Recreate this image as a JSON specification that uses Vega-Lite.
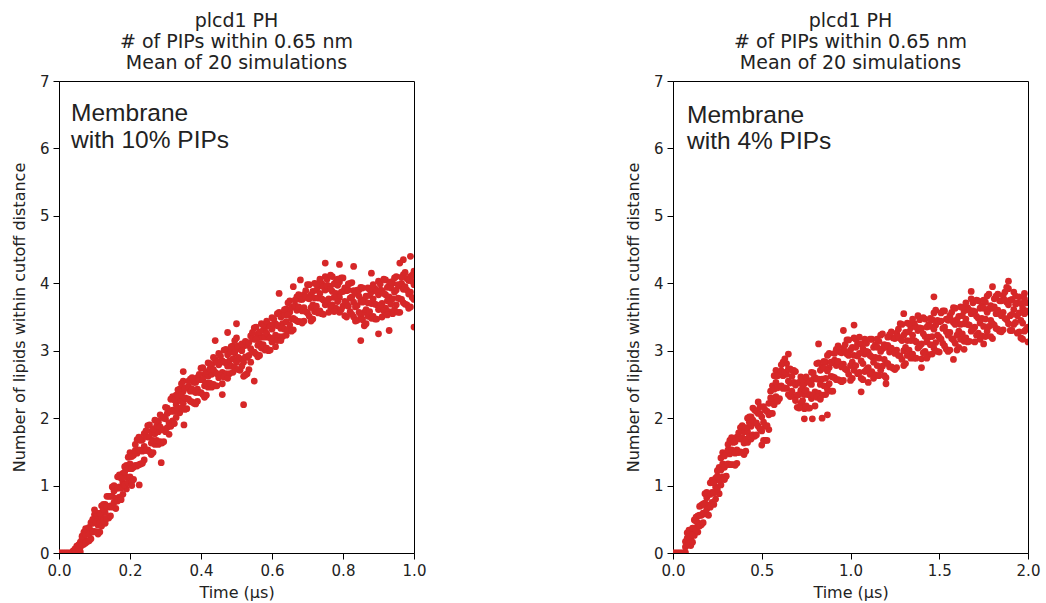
{
"$schema": "https://vega.github.io/schema/vega-lite/v6.json",
"padding": {"left": 10, "top": 11, "right": 5, "bottom": 2},
"datasets": {
"a": [
{"t":0,"n":0},{"t":0.005,"n":0},{"t":0.01,"n":0},{"t":0.015,"n":0},{"t":0.02,"n":0},{"t":0.025,"n":0},{"t":0.03,"n":0},{"t":0.035,"n":0},
{"t":0.04,"n":0},{"t":0.04,"n":0.02},{"t":0.04,"n":0.03},
{"t":0.05,"n":0.03},{"t":0.05,"n":0.07},{"t":0.05,"n":0.10},
{"t":0.06,"n":0.02},{"t":0.06,"n":0.09},{"t":0.06,"n":0.16},
{"t":0.07,"n":0.13},{"t":0.07,"n":0.21},{"t":0.07,"n":0.31},
{"t":0.08,"n":0.17},{"t":0.08,"n":0.28},{"t":0.08,"n":0.36},
{"t":0.09,"n":0.21},{"t":0.09,"n":0.33},{"t":0.09,"n":0.45},
{"t":0.10,"n":0.32},{"t":0.10,"n":0.45},{"t":0.10,"n":0.57},
{"t":0.11,"n":0.28},{"t":0.11,"n":0.41},{"t":0.11,"n":0.53},
{"t":0.12,"n":0.40},{"t":0.12,"n":0.54},{"t":0.12,"n":0.70},
{"t":0.13,"n":0.44},{"t":0.13,"n":0.60},{"t":0.13,"n":0.72},
{"t":0.14,"n":0.52},{"t":0.14,"n":0.68},{"t":0.14,"n":0.84},
{"t":0.15,"n":0.68},{"t":0.15,"n":0.84},{"t":0.15,"n":0.98},
{"t":0.16,"n":0.66},{"t":0.16,"n":0.81},{"t":0.16,"n":0.97},
{"t":0.17,"n":0.83},{"t":0.17,"n":0.98},{"t":0.17,"n":1.16},
{"t":0.18,"n":0.87},{"t":0.18,"n":1.05},{"t":0.18,"n":1.18},
{"t":0.19,"n":0.95},{"t":0.19,"n":1.13},{"t":0.19,"n":1.30},
{"t":0.20,"n":1.13},{"t":0.20,"n":1.32},{"t":0.20,"n":1.49},
{"t":0.21,"n":1.09},{"t":0.21,"n":1.27},{"t":0.21,"n":1.45},
{"t":0.22,"n":1.29},{"t":0.22,"n":1.48},{"t":0.22,"n":1.68},
{"t":0.23,"n":1.32},{"t":0.23,"n":1.52},{"t":0.23,"n":1.67},
{"t":0.24,"n":1.38},{"t":0.24,"n":1.58},{"t":0.24,"n":1.77},
{"t":0.25,"n":1.53},{"t":0.25,"n":1.72},{"t":0.25,"n":1.89},
{"t":0.26,"n":1.46},{"t":0.26,"n":1.63},{"t":0.26,"n":1.80},
{"t":0.27,"n":1.61},{"t":0.27,"n":1.77},{"t":0.27,"n":1.97},
{"t":0.28,"n":1.61},{"t":0.28,"n":1.80},{"t":0.28,"n":1.94},
{"t":0.29,"n":1.63},{"t":0.29,"n":1.83},{"t":0.29,"n":2.02},
{"t":0.30,"n":1.80},{"t":0.30,"n":1.99},{"t":0.30,"n":2.16},
{"t":0.31,"n":1.76},{"t":0.31,"n":1.93},{"t":0.31,"n":2.10},
{"t":0.32,"n":1.96},{"t":0.32,"n":2.12},{"t":0.32,"n":2.32},
{"t":0.33,"n":2.01},{"t":0.33,"n":2.20},{"t":0.33,"n":2.34},
{"t":0.34,"n":2.08},{"t":0.34,"n":2.26},{"t":0.34,"n":2.43},
{"t":0.35,"n":2.22},{"t":0.35,"n":2.40},{"t":0.35,"n":2.55},
{"t":0.36,"n":2.14},{"t":0.36,"n":2.29},{"t":0.36,"n":2.45},
{"t":0.37,"n":2.25},{"t":0.37,"n":2.40},{"t":0.37,"n":2.58},
{"t":0.38,"n":2.22},{"t":0.38,"n":2.40},{"t":0.38,"n":2.53},
{"t":0.39,"n":2.25},{"t":0.39,"n":2.43},{"t":0.39,"n":2.60},
{"t":0.40,"n":2.38},{"t":0.40,"n":2.57},{"t":0.40,"n":2.74},
{"t":0.41,"n":2.31},{"t":0.41,"n":2.48},{"t":0.41,"n":2.65},
{"t":0.42,"n":2.46},{"t":0.42,"n":2.62},{"t":0.42,"n":2.82},
{"t":0.43,"n":2.46},{"t":0.43,"n":2.65},{"t":0.43,"n":2.79},
{"t":0.44,"n":2.48},{"t":0.44,"n":2.68},{"t":0.44,"n":2.87},
{"t":0.45,"n":2.60},{"t":0.45,"n":2.79},{"t":0.45,"n":2.96},
{"t":0.46,"n":2.51},{"t":0.46,"n":2.68},{"t":0.46,"n":2.85},
{"t":0.47,"n":2.66},{"t":0.47,"n":2.82},{"t":0.47,"n":3.02},
{"t":0.48,"n":2.66},{"t":0.48,"n":2.85},{"t":0.48,"n":2.99},
{"t":0.49,"n":2.68},{"t":0.49,"n":2.88},{"t":0.49,"n":3.07},
{"t":0.50,"n":2.83},{"t":0.50,"n":3.02},{"t":0.50,"n":3.19},
{"t":0.51,"n":2.71},{"t":0.51,"n":2.88},{"t":0.51,"n":3.05},
{"t":0.52,"n":2.62},{"t":0.52,"n":2.83},{"t":0.52,"n":3.07},
{"t":0.53,"n":2.66},{"t":0.53,"n":2.90},{"t":0.53,"n":3.08},
{"t":0.54,"n":2.83},{"t":0.54,"n":3.03},{"t":0.54,"n":3.22},
{"t":0.55,"n":2.98},{"t":0.55,"n":3.17},{"t":0.55,"n":3.34},
{"t":0.56,"n":2.91},{"t":0.56,"n":3.08},{"t":0.56,"n":3.25},
{"t":0.57,"n":3.04},{"t":0.57,"n":3.20},{"t":0.57,"n":3.40},
{"t":0.58,"n":3.01},{"t":0.58,"n":3.20},{"t":0.58,"n":3.34},
{"t":0.59,"n":3.00},{"t":0.59,"n":3.20},{"t":0.59,"n":3.39},
{"t":0.60,"n":3.13},{"t":0.60,"n":3.32},{"t":0.60,"n":3.49},
{"t":0.61,"n":3.06},{"t":0.61,"n":3.23},{"t":0.61,"n":3.40},
{"t":0.62,"n":3.21},{"t":0.62,"n":3.37},{"t":0.62,"n":3.57},
{"t":0.63,"n":3.21},{"t":0.63,"n":3.40},{"t":0.63,"n":3.54},
{"t":0.64,"n":3.23},{"t":0.64,"n":3.43},{"t":0.64,"n":3.62},
{"t":0.65,"n":3.38},{"t":0.65,"n":3.57},{"t":0.65,"n":3.74},
{"t":0.66,"n":3.31},{"t":0.66,"n":3.48},{"t":0.66,"n":3.65},
{"t":0.67,"n":3.44},{"t":0.67,"n":3.60},{"t":0.67,"n":3.80},
{"t":0.68,"n":3.43},{"t":0.68,"n":3.62},{"t":0.68,"n":3.76},
{"t":0.69,"n":3.44},{"t":0.69,"n":3.64},{"t":0.69,"n":3.83},
{"t":0.70,"n":3.56},{"t":0.70,"n":3.78},{"t":0.70,"n":3.98},
{"t":0.71,"n":3.44},{"t":0.71,"n":3.64},{"t":0.71,"n":3.83},
{"t":0.72,"n":3.58},{"t":0.72,"n":3.78},{"t":0.72,"n":4.00},
{"t":0.73,"n":3.56},{"t":0.73,"n":3.78},{"t":0.73,"n":3.95},
{"t":0.74,"n":3.55},{"t":0.74,"n":3.77},{"t":0.74,"n":4.00},
{"t":0.75,"n":3.68},{"t":0.75,"n":3.90},{"t":0.75,"n":4.10},
{"t":0.76,"n":3.57},{"t":0.76,"n":3.77},{"t":0.76,"n":3.96},
{"t":0.77,"n":3.68},{"t":0.77,"n":3.88},{"t":0.77,"n":4.10},
{"t":0.78,"n":3.63},{"t":0.78,"n":3.85},{"t":0.78,"n":4.02},
{"t":0.79,"n":3.57},{"t":0.79,"n":3.79},{"t":0.79,"n":4.02},
{"t":0.80,"n":3.66},{"t":0.80,"n":3.88},{"t":0.80,"n":4.08},
{"t":0.81,"n":3.50},{"t":0.81,"n":3.70},{"t":0.81,"n":3.89},
{"t":0.82,"n":3.58},{"t":0.82,"n":3.78},{"t":0.82,"n":4.00},
{"t":0.83,"n":3.50},{"t":0.83,"n":3.72},{"t":0.83,"n":3.89},
{"t":0.84,"n":3.45},{"t":0.84,"n":3.67},{"t":0.84,"n":3.90},
{"t":0.85,"n":3.52},{"t":0.85,"n":3.74},{"t":0.85,"n":3.94},
{"t":0.86,"n":3.37},{"t":0.86,"n":3.57},{"t":0.86,"n":3.76},
{"t":0.87,"n":3.51},{"t":0.87,"n":3.71},{"t":0.87,"n":3.93},
{"t":0.88,"n":3.48},{"t":0.88,"n":3.70},{"t":0.88,"n":3.87},
{"t":0.89,"n":3.47},{"t":0.89,"n":3.69},{"t":0.89,"n":3.92},
{"t":0.90,"n":3.61},{"t":0.90,"n":3.83},{"t":0.90,"n":4.03},
{"t":0.91,"n":3.50},{"t":0.91,"n":3.70},{"t":0.91,"n":3.89},
{"t":0.92,"n":3.63},{"t":0.92,"n":3.83},{"t":0.92,"n":4.05},
{"t":0.93,"n":3.58},{"t":0.93,"n":3.80},{"t":0.93,"n":3.97},
{"t":0.94,"n":3.55},{"t":0.94,"n":3.77},{"t":0.94,"n":4.00},
{"t":0.95,"n":3.68},{"t":0.95,"n":3.90},{"t":0.95,"n":4.10},
{"t":0.96,"n":3.57},{"t":0.96,"n":3.77},{"t":0.96,"n":3.96},
{"t":0.97,"n":3.71},{"t":0.97,"n":3.91},{"t":0.97,"n":4.13},
{"t":0.98,"n":3.68},{"t":0.98,"n":3.90},{"t":0.98,"n":4.07},
{"t":0.99,"n":3.65},{"t":0.99,"n":3.87},{"t":0.99,"n":4.10},
{"t":1.00,"n":3.76},{"t":1.00,"n":3.98},{"t":1.00,"n":4.18},
{"t":0.045,"n":0.01},{"t":0.045,"n":0.04},{"t":0.045,"n":0.06},
{"t":0.055,"n":0.02},{"t":0.055,"n":0.07},{"t":0.055,"n":0.12},
{"t":0.065,"n":0.12},{"t":0.065,"n":0.21},{"t":0.065,"n":0.25},
{"t":0.075,"n":0.15},{"t":0.075,"n":0.27},{"t":0.075,"n":0.36},
{"t":0.085,"n":0.18},{"t":0.085,"n":0.28},{"t":0.085,"n":0.38},
{"t":0.095,"n":0.31},{"t":0.095,"n":0.44},{"t":0.095,"n":0.50},
{"t":0.105,"n":0.31},{"t":0.105,"n":0.46},{"t":0.105,"n":0.59},
{"t":0.115,"n":0.31},{"t":0.115,"n":0.45},{"t":0.115,"n":0.59},
{"t":0.125,"n":0.48},{"t":0.125,"n":0.65},{"t":0.125,"n":0.72},
{"t":0.135,"n":0.51},{"t":0.135,"n":0.69},{"t":0.135,"n":0.84},
{"t":0.145,"n":0.55},{"t":0.145,"n":0.70},{"t":0.145,"n":0.84},
{"t":0.155,"n":0.75},{"t":0.155,"n":0.92},{"t":0.155,"n":1.00},
{"t":0.165,"n":0.77},{"t":0.165,"n":0.96},{"t":0.165,"n":1.13},
{"t":0.175,"n":0.79},{"t":0.175,"n":0.96},{"t":0.175,"n":1.11},
{"t":0.185,"n":1.01},{"t":0.185,"n":1.20},{"t":0.185,"n":1.28},
{"t":0.195,"n":1.04},{"t":0.195,"n":1.25},{"t":0.195,"n":1.42},
{"t":0.205,"n":1.06},{"t":0.205,"n":1.25},{"t":0.205,"n":1.43},
{"t":0.215,"n":1.30},{"t":0.215,"n":1.52},{"t":0.215,"n":1.61},
{"t":0.225,"n":1.31},{"t":0.225,"n":1.53},{"t":0.225,"n":1.72},
{"t":0.235,"n":1.33},{"t":0.235,"n":1.51},{"t":0.235,"n":1.68},
{"t":0.245,"n":1.52},{"t":0.245,"n":1.73},{"t":0.245,"n":1.81},
{"t":0.255,"n":1.50},{"t":0.255,"n":1.72},{"t":0.255,"n":1.90},
{"t":0.265,"n":1.49},{"t":0.265,"n":1.67},{"t":0.265,"n":1.84},
{"t":0.275,"n":1.67},{"t":0.275,"n":1.88},{"t":0.275,"n":1.96},
{"t":0.285,"n":1.65},{"t":0.285,"n":1.87},{"t":0.285,"n":2.05},
{"t":0.295,"n":1.65},{"t":0.295,"n":1.83},{"t":0.295,"n":2.00},
{"t":0.305,"n":1.86},{"t":0.305,"n":2.07},{"t":0.305,"n":2.15},
{"t":0.315,"n":1.88},{"t":0.315,"n":2.10},{"t":0.315,"n":2.28},
{"t":0.325,"n":1.92},{"t":0.325,"n":2.10},{"t":0.325,"n":2.27},
{"t":0.335,"n":2.15},{"t":0.335,"n":2.34},{"t":0.335,"n":2.42},
{"t":0.345,"n":2.15},{"t":0.345,"n":2.34},{"t":0.345,"n":2.51},
{"t":0.355,"n":2.13},{"t":0.355,"n":2.30},{"t":0.355,"n":2.45},
{"t":0.365,"n":2.28},{"t":0.365,"n":2.47},{"t":0.365,"n":2.55},
{"t":0.375,"n":2.24},{"t":0.375,"n":2.43},{"t":0.375,"n":2.60},
{"t":0.385,"n":2.21},{"t":0.385,"n":2.38},{"t":0.385,"n":2.53},
{"t":0.395,"n":2.38},{"t":0.395,"n":2.57},{"t":0.395,"n":2.65},
{"t":0.405,"n":2.35},{"t":0.405,"n":2.57},{"t":0.405,"n":2.75},
{"t":0.415,"n":2.34},{"t":0.415,"n":2.52},{"t":0.415,"n":2.69},
{"t":0.425,"n":2.52},{"t":0.425,"n":2.73},{"t":0.425,"n":2.81},
{"t":0.435,"n":2.50},{"t":0.435,"n":2.72},{"t":0.435,"n":2.90},
{"t":0.445,"n":2.48},{"t":0.445,"n":2.66},{"t":0.445,"n":2.83},
{"t":0.455,"n":2.63},{"t":0.455,"n":2.84},{"t":0.455,"n":2.92},
{"t":0.465,"n":2.61},{"t":0.465,"n":2.83},{"t":0.465,"n":3.01},
{"t":0.475,"n":2.59},{"t":0.475,"n":2.77},{"t":0.475,"n":2.94},
{"t":0.485,"n":2.77},{"t":0.485,"n":2.98},{"t":0.485,"n":3.06},
{"t":0.495,"n":2.75},{"t":0.495,"n":2.97},{"t":0.495,"n":3.15},
{"t":0.505,"n":2.72},{"t":0.505,"n":2.90},{"t":0.505,"n":3.07},
{"t":0.515,"n":2.77},{"t":0.515,"n":3.00},{"t":0.515,"n":3.10},
{"t":0.525,"n":2.64},{"t":0.525,"n":2.91},{"t":0.525,"n":3.14},
{"t":0.535,"n":2.72},{"t":0.535,"n":2.93},{"t":0.535,"n":3.12},
{"t":0.545,"n":2.98},{"t":0.545,"n":3.19},{"t":0.545,"n":3.27},
{"t":0.555,"n":2.95},{"t":0.555,"n":3.17},{"t":0.555,"n":3.35},
{"t":0.565,"n":2.93},{"t":0.565,"n":3.11},{"t":0.565,"n":3.28},
{"t":0.575,"n":3.09},{"t":0.575,"n":3.30},{"t":0.575,"n":3.38},
{"t":0.585,"n":3.04},{"t":0.585,"n":3.26},{"t":0.585,"n":3.44},
{"t":0.595,"n":3.01},{"t":0.595,"n":3.19},{"t":0.595,"n":3.36},
{"t":0.605,"n":3.18},{"t":0.605,"n":3.39},{"t":0.605,"n":3.47},
{"t":0.615,"n":3.15},{"t":0.615,"n":3.37},{"t":0.615,"n":3.55},
{"t":0.625,"n":3.15},{"t":0.625,"n":3.33},{"t":0.625,"n":3.50},
{"t":0.635,"n":3.32},{"t":0.635,"n":3.53},{"t":0.635,"n":3.61},
{"t":0.645,"n":3.31},{"t":0.645,"n":3.53},{"t":0.645,"n":3.71},
{"t":0.655,"n":3.29},{"t":0.655,"n":3.47},{"t":0.655,"n":3.64},
{"t":0.665,"n":3.46},{"t":0.665,"n":3.67},{"t":0.665,"n":3.75},
{"t":0.675,"n":3.43},{"t":0.675,"n":3.65},{"t":0.675,"n":3.83},
{"t":0.685,"n":3.41},{"t":0.685,"n":3.59},{"t":0.685,"n":3.76},
{"t":0.695,"n":3.58},{"t":0.695,"n":3.80},{"t":0.695,"n":3.89},
{"t":0.705,"n":3.51},{"t":0.705,"n":3.77},{"t":0.705,"n":3.98},
{"t":0.715,"n":3.47},{"t":0.715,"n":3.68},{"t":0.715,"n":3.88},
{"t":0.725,"n":3.66},{"t":0.725,"n":3.90},{"t":0.725,"n":3.99},
{"t":0.735,"n":3.59},{"t":0.735,"n":3.85},{"t":0.735,"n":4.06},
{"t":0.745,"n":3.54},{"t":0.745,"n":3.75},{"t":0.745,"n":3.95},
{"t":0.755,"n":3.73},{"t":0.755,"n":3.97},{"t":0.755,"n":4.06},
{"t":0.765,"n":3.65},{"t":0.765,"n":3.91},{"t":0.765,"n":4.12},
{"t":0.775,"n":3.58},{"t":0.775,"n":3.79},{"t":0.775,"n":3.99},
{"t":0.785,"n":3.73},{"t":0.785,"n":3.97},{"t":0.785,"n":4.06},
{"t":0.795,"n":3.61},{"t":0.795,"n":3.87},{"t":0.795,"n":4.08},
{"t":0.805,"n":3.52},{"t":0.805,"n":3.73},{"t":0.805,"n":3.93},
{"t":0.815,"n":3.66},{"t":0.815,"n":3.90},{"t":0.815,"n":3.99},
{"t":0.825,"n":3.54},{"t":0.825,"n":3.80},{"t":0.825,"n":4.01},
{"t":0.835,"n":3.44},{"t":0.835,"n":3.65},{"t":0.835,"n":3.85},
{"t":0.845,"n":3.57},{"t":0.845,"n":3.81},{"t":0.845,"n":3.90},
{"t":0.855,"n":3.46},{"t":0.855,"n":3.72},{"t":0.855,"n":3.93},
{"t":0.865,"n":3.40},{"t":0.865,"n":3.61},{"t":0.865,"n":3.81},
{"t":0.875,"n":3.58},{"t":0.875,"n":3.82},{"t":0.875,"n":3.91},
{"t":0.885,"n":3.51},{"t":0.885,"n":3.77},{"t":0.885,"n":3.98},
{"t":0.895,"n":3.47},{"t":0.895,"n":3.68},{"t":0.895,"n":3.88},
{"t":0.905,"n":3.66},{"t":0.905,"n":3.90},{"t":0.905,"n":3.99},
{"t":0.915,"n":3.59},{"t":0.915,"n":3.85},{"t":0.915,"n":4.06},
{"t":0.925,"n":3.53},{"t":0.925,"n":3.74},{"t":0.925,"n":3.94},
{"t":0.935,"n":3.69},{"t":0.935,"n":3.93},{"t":0.935,"n":4.02},
{"t":0.945,"n":3.61},{"t":0.945,"n":3.87},{"t":0.945,"n":4.08},
{"t":0.955,"n":3.57},{"t":0.955,"n":3.78},{"t":0.955,"n":3.98},
{"t":0.965,"n":3.76},{"t":0.965,"n":4.00},{"t":0.965,"n":4.09},
{"t":0.975,"n":3.69},{"t":0.975,"n":3.95},{"t":0.975,"n":4.16},
{"t":0.985,"n":3.63},{"t":0.985,"n":3.84},{"t":0.985,"n":4.04},
{"t":0.995,"n":3.79},{"t":0.995,"n":4.03},{"t":0.995,"n":4.12},
{"t":0.10,"n":0.64},{"t":0.205,"n":1.0},{"t":0.226,"n":1.01},{"t":0.288,"n":1.34},{"t":0.352,"n":1.9},{"t":0.35,"n":2.69},{"t":0.475,"n":3.27},{"t":0.52,"n":2.2},{"t":0.62,"n":3.85},{"t":0.66,"n":3.95},{"t":0.75,"n":4.3},{"t":0.83,"n":4.25},{"t":0.88,"n":4.15},{"t":0.97,"n":4.35},{"t":0.99,"n":4.4},{"t":1.0,"n":3.35},{"t":0.93,"n":3.3},{"t":0.85,"n":3.15},{"t":0.55,"n":2.55},{"t":0.46,"n":2.35},{"t":0.44,"n":3.15},{"t":0.5,"n":3.4},{"t":0.79,"n":4.28},{"t":0.68,"n":4.05},{"t":0.9,"n":3.25},{"t":0.96,"n":4.3}
],
"b": [
{"t":0,"n":0},{"t":0.01,"n":0},{"t":0.02,"n":0},{"t":0.03,"n":0},{"t":0.04,"n":0},{"t":0.05,"n":0},{"t":0.06,"n":0},
{"t":0.07,"n":0.01},{"t":0.07,"n":0.09},{"t":0.07,"n":0.17},
{"t":0.08,"n":0.12},{"t":0.08,"n":0.22},{"t":0.08,"n":0.30},
{"t":0.10,"n":0.11},{"t":0.10,"n":0.21},{"t":0.10,"n":0.31},
{"t":0.12,"n":0.26},{"t":0.12,"n":0.37},{"t":0.12,"n":0.49},
{"t":0.14,"n":0.31},{"t":0.14,"n":0.45},{"t":0.14,"n":0.55},
{"t":0.16,"n":0.42},{"t":0.16,"n":0.56},{"t":0.16,"n":0.71},
{"t":0.18,"n":0.58},{"t":0.18,"n":0.74},{"t":0.18,"n":0.88},
{"t":0.20,"n":0.56},{"t":0.20,"n":0.71},{"t":0.20,"n":0.87},
{"t":0.22,"n":0.75},{"t":0.22,"n":0.90},{"t":0.22,"n":1.08},
{"t":0.24,"n":0.80},{"t":0.24,"n":0.98},{"t":0.24,"n":1.11},
{"t":0.26,"n":0.88},{"t":0.26,"n":1.08},{"t":0.26,"n":1.27},
{"t":0.28,"n":1.13},{"t":0.28,"n":1.32},{"t":0.28,"n":1.49},
{"t":0.30,"n":1.14},{"t":0.30,"n":1.31},{"t":0.30,"n":1.48},
{"t":0.32,"n":1.31},{"t":0.32,"n":1.47},{"t":0.32,"n":1.67},
{"t":0.34,"n":1.31},{"t":0.34,"n":1.50},{"t":0.34,"n":1.64},
{"t":0.36,"n":1.33},{"t":0.36,"n":1.53},{"t":0.36,"n":1.72},
{"t":0.38,"n":1.50},{"t":0.38,"n":1.69},{"t":0.38,"n":1.86},
{"t":0.40,"n":1.46},{"t":0.40,"n":1.63},{"t":0.40,"n":1.80},
{"t":0.42,"n":1.64},{"t":0.42,"n":1.80},{"t":0.42,"n":2.00},
{"t":0.44,"n":1.69},{"t":0.44,"n":1.88},{"t":0.44,"n":2.02},
{"t":0.46,"n":1.73},{"t":0.46,"n":1.93},{"t":0.46,"n":2.12},
{"t":0.48,"n":1.88},{"t":0.48,"n":2.07},{"t":0.48,"n":2.24},
{"t":0.50,"n":1.60},{"t":0.50,"n":1.81},{"t":0.50,"n":2.02},
{"t":0.52,"n":1.67},{"t":0.52,"n":1.88},{"t":0.52,"n":2.12},
{"t":0.54,"n":1.83},{"t":0.54,"n":2.05},{"t":0.54,"n":2.22},
{"t":0.56,"n":2.07},{"t":0.56,"n":2.27},{"t":0.56,"n":2.48},
{"t":0.58,"n":2.32},{"t":0.58,"n":2.53},{"t":0.58,"n":2.71},
{"t":0.60,"n":2.29},{"t":0.60,"n":2.47},{"t":0.60,"n":2.65},
{"t":0.62,"n":2.44},{"t":0.62,"n":2.63},{"t":0.62,"n":2.83},
{"t":0.64,"n":2.44},{"t":0.64,"n":2.65},{"t":0.64,"n":2.81},
{"t":0.66,"n":2.32},{"t":0.66,"n":2.52},{"t":0.66,"n":2.73},
{"t":0.68,"n":2.32},{"t":0.68,"n":2.53},{"t":0.68,"n":2.71},
{"t":0.70,"n":2.16},{"t":0.70,"n":2.34},{"t":0.70,"n":2.52},
{"t":0.72,"n":2.22},{"t":0.72,"n":2.41},{"t":0.72,"n":2.61},
{"t":0.74,"n":2.14},{"t":0.74,"n":2.35},{"t":0.74,"n":2.51},
{"t":0.76,"n":2.15},{"t":0.76,"n":2.35},{"t":0.76,"n":2.56},
{"t":0.78,"n":2.29},{"t":0.78,"n":2.50},{"t":0.78,"n":2.68},
{"t":0.80,"n":2.18},{"t":0.80,"n":2.39},{"t":0.80,"n":2.60},
{"t":0.82,"n":2.37},{"t":0.82,"n":2.58},{"t":0.82,"n":2.82},
{"t":0.84,"n":2.34},{"t":0.84,"n":2.58},{"t":0.84,"n":2.76},
{"t":0.86,"n":2.35},{"t":0.86,"n":2.59},{"t":0.86,"n":2.83},
{"t":0.88,"n":2.51},{"t":0.88,"n":2.75},{"t":0.88,"n":2.96},
{"t":0.90,"n":2.40},{"t":0.90,"n":2.61},{"t":0.90,"n":2.82},
{"t":0.92,"n":2.57},{"t":0.92,"n":2.78},{"t":0.92,"n":3.02},
{"t":0.94,"n":2.56},{"t":0.94,"n":2.80},{"t":0.94,"n":2.98},
{"t":0.96,"n":2.56},{"t":0.96,"n":2.80},{"t":0.96,"n":3.04},
{"t":0.98,"n":2.71},{"t":0.98,"n":2.95},{"t":0.98,"n":3.16},
{"t":1.00,"n":2.56},{"t":1.00,"n":2.78},{"t":1.00,"n":3.01},
{"t":1.02,"n":2.71},{"t":1.02,"n":2.93},{"t":1.02,"n":3.19},
{"t":1.04,"n":2.66},{"t":1.04,"n":2.92},{"t":1.04,"n":3.11},
{"t":1.06,"n":2.59},{"t":1.06,"n":2.85},{"t":1.06,"n":3.10},
{"t":1.08,"n":2.69},{"t":1.08,"n":2.95},{"t":1.08,"n":3.17},
{"t":1.10,"n":2.53},{"t":1.10,"n":2.75},{"t":1.10,"n":2.98},
{"t":1.12,"n":2.69},{"t":1.12,"n":2.91},{"t":1.12,"n":3.17},
{"t":1.14,"n":2.64},{"t":1.14,"n":2.90},{"t":1.14,"n":3.09},
{"t":1.16,"n":2.63},{"t":1.16,"n":2.89},{"t":1.16,"n":3.14},
{"t":1.18,"n":2.77},{"t":1.18,"n":3.03},{"t":1.18,"n":3.25},
{"t":1.20,"n":2.60},{"t":1.20,"n":2.82},{"t":1.20,"n":3.05},
{"t":1.22,"n":2.76},{"t":1.22,"n":2.98},{"t":1.22,"n":3.24},
{"t":1.24,"n":2.74},{"t":1.24,"n":3.00},{"t":1.24,"n":3.19},
{"t":1.26,"n":2.75},{"t":1.26,"n":3.01},{"t":1.26,"n":3.26},
{"t":1.28,"n":2.92},{"t":1.28,"n":3.18},{"t":1.28,"n":3.40},
{"t":1.30,"n":2.78},{"t":1.30,"n":3.00},{"t":1.30,"n":3.23},
{"t":1.32,"n":2.93},{"t":1.32,"n":3.15},{"t":1.32,"n":3.41},
{"t":1.34,"n":2.89},{"t":1.34,"n":3.15},{"t":1.34,"n":3.34},
{"t":1.36,"n":2.89},{"t":1.36,"n":3.15},{"t":1.36,"n":3.40},
{"t":1.38,"n":3.04},{"t":1.38,"n":3.30},{"t":1.38,"n":3.52},
{"t":1.40,"n":2.88},{"t":1.40,"n":3.10},{"t":1.40,"n":3.33},
{"t":1.42,"n":2.99},{"t":1.42,"n":3.21},{"t":1.42,"n":3.47},
{"t":1.44,"n":2.94},{"t":1.44,"n":3.20},{"t":1.44,"n":3.39},
{"t":1.46,"n":2.95},{"t":1.46,"n":3.21},{"t":1.46,"n":3.46},
{"t":1.48,"n":3.12},{"t":1.48,"n":3.38},{"t":1.48,"n":3.60},
{"t":1.50,"n":2.98},{"t":1.50,"n":3.20},{"t":1.50,"n":3.43},
{"t":1.52,"n":3.11},{"t":1.52,"n":3.33},{"t":1.52,"n":3.59},
{"t":1.54,"n":3.02},{"t":1.54,"n":3.28},{"t":1.54,"n":3.47},
{"t":1.56,"n":3.01},{"t":1.56,"n":3.27},{"t":1.56,"n":3.52},
{"t":1.58,"n":3.16},{"t":1.58,"n":3.42},{"t":1.58,"n":3.64},
{"t":1.60,"n":3.01},{"t":1.60,"n":3.23},{"t":1.60,"n":3.46},
{"t":1.62,"n":3.17},{"t":1.62,"n":3.39},{"t":1.62,"n":3.65},
{"t":1.64,"n":3.14},{"t":1.64,"n":3.40},{"t":1.64,"n":3.59},
{"t":1.66,"n":3.13},{"t":1.66,"n":3.39},{"t":1.66,"n":3.64},
{"t":1.68,"n":3.29},{"t":1.68,"n":3.55},{"t":1.68,"n":3.77},
{"t":1.70,"n":3.13},{"t":1.70,"n":3.35},{"t":1.70,"n":3.58},
{"t":1.72,"n":3.26},{"t":1.72,"n":3.48},{"t":1.72,"n":3.74},
{"t":1.74,"n":3.22},{"t":1.74,"n":3.48},{"t":1.74,"n":3.67},
{"t":1.76,"n":3.21},{"t":1.76,"n":3.47},{"t":1.76,"n":3.72},
{"t":1.78,"n":3.36},{"t":1.78,"n":3.62},{"t":1.78,"n":3.84},
{"t":1.80,"n":3.18},{"t":1.80,"n":3.40},{"t":1.80,"n":3.63},
{"t":1.82,"n":3.33},{"t":1.82,"n":3.55},{"t":1.82,"n":3.81},
{"t":1.84,"n":3.29},{"t":1.84,"n":3.55},{"t":1.84,"n":3.74},
{"t":1.86,"n":3.31},{"t":1.86,"n":3.57},{"t":1.86,"n":3.82},
{"t":1.88,"n":3.46},{"t":1.88,"n":3.72},{"t":1.88,"n":3.94},
{"t":1.90,"n":3.30},{"t":1.90,"n":3.52},{"t":1.90,"n":3.75},
{"t":1.92,"n":3.39},{"t":1.92,"n":3.61},{"t":1.92,"n":3.87},
{"t":1.94,"n":3.26},{"t":1.94,"n":3.52},{"t":1.94,"n":3.71},
{"t":1.96,"n":3.19},{"t":1.96,"n":3.45},{"t":1.96,"n":3.70},
{"t":1.98,"n":3.29},{"t":1.98,"n":3.55},{"t":1.98,"n":3.77},
{"t":2.00,"n":3.13},{"t":2.00,"n":3.35},{"t":2.00,"n":3.58},
{"t":0.09,"n":0.13},{"t":0.09,"n":0.25},{"t":0.09,"n":0.34},
{"t":0.11,"n":0.16},{"t":0.11,"n":0.27},{"t":0.11,"n":0.37},
{"t":0.13,"n":0.34},{"t":0.13,"n":0.47},{"t":0.13,"n":0.53},
{"t":0.15,"n":0.40},{"t":0.15,"n":0.56},{"t":0.15,"n":0.69},
{"t":0.17,"n":0.45},{"t":0.17,"n":0.59},{"t":0.17,"n":0.73},
{"t":0.19,"n":0.65},{"t":0.19,"n":0.82},{"t":0.19,"n":0.90},
{"t":0.21,"n":0.68},{"t":0.21,"n":0.87},{"t":0.21,"n":1.04},
{"t":0.23,"n":0.72},{"t":0.23,"n":0.89},{"t":0.23,"n":1.04},
{"t":0.25,"n":0.95},{"t":0.25,"n":1.14},{"t":0.25,"n":1.22},
{"t":0.27,"n":1.01},{"t":0.27,"n":1.23},{"t":0.27,"n":1.41},
{"t":0.29,"n":1.09},{"t":0.29,"n":1.27},{"t":0.29,"n":1.44},
{"t":0.31,"n":1.32},{"t":0.31,"n":1.53},{"t":0.31,"n":1.61},
{"t":0.33,"n":1.31},{"t":0.33,"n":1.53},{"t":0.33,"n":1.71},
{"t":0.35,"n":1.30},{"t":0.35,"n":1.48},{"t":0.35,"n":1.65},
{"t":0.37,"n":1.49},{"t":0.37,"n":1.70},{"t":0.37,"n":1.78},
{"t":0.39,"n":1.49},{"t":0.39,"n":1.71},{"t":0.39,"n":1.89},
{"t":0.41,"n":1.51},{"t":0.41,"n":1.69},{"t":0.41,"n":1.86},
{"t":0.43,"n":1.73},{"t":0.43,"n":1.94},{"t":0.43,"n":2.02},
{"t":0.45,"n":1.75},{"t":0.45,"n":1.97},{"t":0.45,"n":2.15},
{"t":0.47,"n":1.75},{"t":0.47,"n":1.93},{"t":0.47,"n":2.10},
{"t":0.49,"n":1.84},{"t":0.49,"n":2.07},{"t":0.49,"n":2.17},
{"t":0.51,"n":1.67},{"t":0.51,"n":1.94},{"t":0.51,"n":2.17},
{"t":0.53,"n":1.67},{"t":0.53,"n":1.89},{"t":0.53,"n":2.10},
{"t":0.55,"n":2.07},{"t":0.55,"n":2.30},{"t":0.55,"n":2.40},
{"t":0.57,"n":2.20},{"t":0.57,"n":2.43},{"t":0.57,"n":2.63},
{"t":0.59,"n":2.25},{"t":0.59,"n":2.45},{"t":0.59,"n":2.63},
{"t":0.61,"n":2.48},{"t":0.61,"n":2.70},{"t":0.61,"n":2.79},
{"t":0.63,"n":2.45},{"t":0.63,"n":2.68},{"t":0.63,"n":2.88},
{"t":0.65,"n":2.35},{"t":0.65,"n":2.55},{"t":0.65,"n":2.73},
{"t":0.67,"n":2.40},{"t":0.67,"n":2.62},{"t":0.67,"n":2.71},
{"t":0.69,"n":2.26},{"t":0.69,"n":2.49},{"t":0.69,"n":2.69},
{"t":0.71,"n":2.15},{"t":0.71,"n":2.35},{"t":0.71,"n":2.53},
{"t":0.73,"n":2.26},{"t":0.73,"n":2.48},{"t":0.73,"n":2.57},
{"t":0.75,"n":2.18},{"t":0.75,"n":2.41},{"t":0.75,"n":2.61},
{"t":0.77,"n":2.15},{"t":0.77,"n":2.35},{"t":0.77,"n":2.53},
{"t":0.79,"n":2.34},{"t":0.79,"n":2.58},{"t":0.79,"n":2.67},
{"t":0.81,"n":2.31},{"t":0.81,"n":2.58},{"t":0.81,"n":2.81},
{"t":0.83,"n":2.28},{"t":0.83,"n":2.50},{"t":0.83,"n":2.71},
{"t":0.85,"n":2.48},{"t":0.85,"n":2.74},{"t":0.85,"n":2.84},
{"t":0.87,"n":2.43},{"t":0.87,"n":2.70},{"t":0.87,"n":2.93},
{"t":0.89,"n":2.40},{"t":0.89,"n":2.62},{"t":0.89,"n":2.83},
{"t":0.91,"n":2.60},{"t":0.91,"n":2.86},{"t":0.91,"n":2.96},
{"t":0.93,"n":2.57},{"t":0.93,"n":2.84},{"t":0.93,"n":3.07},
{"t":0.95,"n":2.54},{"t":0.95,"n":2.76},{"t":0.95,"n":2.97},
{"t":0.97,"n":2.73},{"t":0.97,"n":2.99},{"t":0.97,"n":3.09},
{"t":0.99,"n":2.65},{"t":0.99,"n":2.93},{"t":0.99,"n":3.16},
{"t":1.01,"n":2.59},{"t":1.01,"n":2.83},{"t":1.01,"n":3.05},
{"t":1.03,"n":2.78},{"t":1.03,"n":3.05},{"t":1.03,"n":3.17},
{"t":1.05,"n":2.68},{"t":1.05,"n":2.96},{"t":1.05,"n":3.20},
{"t":1.07,"n":2.57},{"t":1.07,"n":2.81},{"t":1.07,"n":3.03},
{"t":1.09,"n":2.72},{"t":1.09,"n":2.99},{"t":1.09,"n":3.11},
{"t":1.11,"n":2.65},{"t":1.11,"n":2.93},{"t":1.11,"n":3.17},
{"t":1.13,"n":2.59},{"t":1.13,"n":2.83},{"t":1.13,"n":3.05},
{"t":1.15,"n":2.78},{"t":1.15,"n":3.05},{"t":1.15,"n":3.17},
{"t":1.17,"n":2.71},{"t":1.17,"n":2.99},{"t":1.17,"n":3.23},
{"t":1.19,"n":2.63},{"t":1.19,"n":2.87},{"t":1.19,"n":3.09},
{"t":1.21,"n":2.81},{"t":1.21,"n":3.08},{"t":1.21,"n":3.20},
{"t":1.23,"n":2.76},{"t":1.23,"n":3.04},{"t":1.23,"n":3.28},
{"t":1.25,"n":2.72},{"t":1.25,"n":2.96},{"t":1.25,"n":3.18},
{"t":1.27,"n":2.93},{"t":1.27,"n":3.20},{"t":1.27,"n":3.32},
{"t":1.29,"n":2.87},{"t":1.29,"n":3.15},{"t":1.29,"n":3.39},
{"t":1.31,"n":2.81},{"t":1.31,"n":3.05},{"t":1.31,"n":3.27},
{"t":1.33,"n":3.01},{"t":1.33,"n":3.28},{"t":1.33,"n":3.40},
{"t":1.35,"n":2.95},{"t":1.35,"n":3.23},{"t":1.35,"n":3.47},
{"t":1.37,"n":2.89},{"t":1.37,"n":3.13},{"t":1.37,"n":3.35},
{"t":1.39,"n":3.07},{"t":1.39,"n":3.34},{"t":1.39,"n":3.46},
{"t":1.41,"n":2.97},{"t":1.41,"n":3.25},{"t":1.41,"n":3.49},
{"t":1.43,"n":2.89},{"t":1.43,"n":3.13},{"t":1.43,"n":3.35},
{"t":1.45,"n":3.09},{"t":1.45,"n":3.36},{"t":1.45,"n":3.48},
{"t":1.47,"n":3.04},{"t":1.47,"n":3.32},{"t":1.47,"n":3.56},
{"t":1.49,"n":2.99},{"t":1.49,"n":3.23},{"t":1.49,"n":3.45},
{"t":1.51,"n":3.17},{"t":1.51,"n":3.44},{"t":1.51,"n":3.56},
{"t":1.53,"n":3.07},{"t":1.53,"n":3.35},{"t":1.53,"n":3.59},
{"t":1.55,"n":2.99},{"t":1.55,"n":3.23},{"t":1.55,"n":3.45},
{"t":1.57,"n":3.18},{"t":1.57,"n":3.45},{"t":1.57,"n":3.57},
{"t":1.59,"n":3.11},{"t":1.59,"n":3.39},{"t":1.59,"n":3.63},
{"t":1.61,"n":3.05},{"t":1.61,"n":3.29},{"t":1.61,"n":3.51},
{"t":1.63,"n":3.25},{"t":1.63,"n":3.52},{"t":1.63,"n":3.64},
{"t":1.65,"n":3.19},{"t":1.65,"n":3.47},{"t":1.65,"n":3.71},
{"t":1.67,"n":3.14},{"t":1.67,"n":3.38},{"t":1.67,"n":3.60},
{"t":1.69,"n":3.32},{"t":1.69,"n":3.59},{"t":1.69,"n":3.71},
{"t":1.71,"n":3.23},{"t":1.71,"n":3.51},{"t":1.71,"n":3.75},
{"t":1.73,"n":3.17},{"t":1.73,"n":3.41},{"t":1.73,"n":3.63},
{"t":1.75,"n":3.36},{"t":1.75,"n":3.63},{"t":1.75,"n":3.75},
{"t":1.77,"n":3.29},{"t":1.77,"n":3.57},{"t":1.77,"n":3.81},
{"t":1.79,"n":3.21},{"t":1.79,"n":3.45},{"t":1.79,"n":3.67},
{"t":1.81,"n":3.38},{"t":1.81,"n":3.65},{"t":1.81,"n":3.77},
{"t":1.83,"n":3.32},{"t":1.83,"n":3.60},{"t":1.83,"n":3.84},
{"t":1.85,"n":3.28},{"t":1.85,"n":3.52},{"t":1.85,"n":3.74},
{"t":1.87,"n":3.48},{"t":1.87,"n":3.75},{"t":1.87,"n":3.87},
{"t":1.89,"n":3.40},{"t":1.89,"n":3.68},{"t":1.89,"n":3.92},
{"t":1.91,"n":3.30},{"t":1.91,"n":3.54},{"t":1.91,"n":3.76},
{"t":1.93,"n":3.42},{"t":1.93,"n":3.69},{"t":1.93,"n":3.81},
{"t":1.95,"n":3.28},{"t":1.95,"n":3.56},{"t":1.95,"n":3.80},
{"t":1.97,"n":3.17},{"t":1.97,"n":3.41},{"t":1.97,"n":3.63},
{"t":1.99,"n":3.32},{"t":1.99,"n":3.59},{"t":1.99,"n":3.71},
{"t":0.96,"n":3.3},{"t":1.02,"n":3.38},{"t":1.89,"n":4.03},{"t":1.47,"n":3.8},{"t":1.68,"n":3.88},{"t":0.84,"n":2.0},{"t":0.87,"n":2.05},{"t":1.06,"n":2.39},{"t":1.2,"n":2.51},{"t":1.58,"n":2.87},{"t":1.64,"n":3.02},{"t":0.74,"n":1.99},{"t":0.785,"n":1.99},{"t":0.82,"n":3.1},{"t":0.65,"n":2.95},{"t":1.3,"n":3.55},{"t":1.4,"n":2.75},{"t":1.8,"n":3.95},{"t":1.98,"n":3.85},{"t":1.75,"n":3.1}
],
"ta": [{"t":0.034,"n":6.40,"label":"Membrane"},{"t":0.034,"n":6.01,"label":"with 10% PIPs"}],
"tb": [{"t":0.079,"n":6.38,"label":"Membrane"},{"t":0.079,"n":5.99,"label":"with 4% PIPs"}]
},
"spacing": 197,
"hconcat": [
{
"width": 355, "height": 472,
"title": {"text": ["plcd1 PH", "# of PIPs within 0.65 nm", "Mean of 20 simulations"]},
"layer": [
{"data": {"name": "a"}, "mark": {"type": "circle", "size": 46, "color": "#d62728", "opacity": 1, "clip": true},
 "encoding": {
  "x": {"field": "t", "type": "quantitative", "scale": {"domain": [0, 1], "nice": false}, "axis": {"title": "Time (μs)", "values": [0, 0.2, 0.4, 0.6, 0.8, 1.0], "format": ".1f"}},
  "y": {"field": "n", "type": "quantitative", "scale": {"domain": [0, 7], "nice": false}, "axis": {"title": "Number of lipids within cutoff distance", "values": [0, 1, 2, 3, 4, 5, 6, 7], "format": "d"}}
 }},
{"data": {"name": "ta"}, "mark": {"type": "text", "align": "left", "baseline": "alphabetic", "font": "Liberation Sans", "fontSize": 24.5, "color": "#222222"},
 "encoding": {"x": {"field": "t", "type": "quantitative"}, "y": {"field": "n", "type": "quantitative"}, "text": {"field": "label"}}}
]
},
{
"width": 355, "height": 472,
"title": {"text": ["plcd1 PH", "# of PIPs within 0.65 nm", "Mean of 20 simulations"]},
"layer": [
{"data": {"name": "b"}, "mark": {"type": "circle", "size": 46, "color": "#d62728", "opacity": 1, "clip": true},
 "encoding": {
  "x": {"field": "t", "type": "quantitative", "scale": {"domain": [0, 2], "nice": false}, "axis": {"title": "Time (μs)", "values": [0, 0.5, 1.0, 1.5, 2.0], "format": ".1f"}},
  "y": {"field": "n", "type": "quantitative", "scale": {"domain": [0, 7], "nice": false}, "axis": {"title": "Number of lipids within cutoff distance", "values": [0, 1, 2, 3, 4, 5, 6, 7], "format": "d"}}
 }},
{"data": {"name": "tb"}, "mark": {"type": "text", "align": "left", "baseline": "alphabetic", "font": "Liberation Sans", "fontSize": 24.5, "color": "#222222"},
 "encoding": {"x": {"field": "t", "type": "quantitative"}, "y": {"field": "n", "type": "quantitative"}, "text": {"field": "label"}}}
]
}
],
"config": {
 "view": {"stroke": "black", "strokeWidth": 1},
 "axis": {"grid": false, "domainColor": "black", "tickColor": "black", "labelColor": "#222222", "titleColor": "#222222", "labelFont": "DejaVu Sans", "titleFont": "DejaVu Sans", "labelFontSize": 15, "titleFontSize": 16, "titleFontWeight": "normal", "tickSize": 6, "labelPadding": 4, "labelFlush": false, "labelOverlap": false},
 "axisX": {"titlePadding": 6},
 "axisY": {"titlePadding": 12},
 "title": {"font": "DejaVu Sans", "fontSize": 19, "fontWeight": "normal", "color": "#222222", "lineHeight": 21, "offset": 1, "anchor": "middle"}
}
}
